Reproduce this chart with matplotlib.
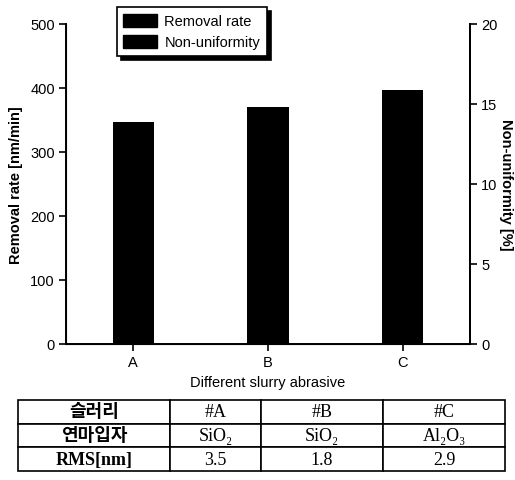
import numpy as np
import matplotlib
matplotlib.use('Agg')
import matplotlib.pyplot as plt
from matplotlib.patches import Patch

# chart data
slurries = ['A', 'B', 'C']
removal_rate = [347, 370, 397]

# table data
table_rows = [
    ['슬러리', '#A', '#B', '#C'],
    ['연마입자', 'SiO₂', 'SiO₂', 'Al₂O₃'],
    ['RMS[nm]', '3.5', '1.8', '2.9'],
]

plt.rcParams['font.family'] = ['Liberation Sans', 'DejaVu Sans']

fig = plt.figure(figsize=(5.15, 4.81), dpi=100)

# main axes
ax1 = fig.add_axes([66 / 515, 1 - 345 / 481, 404 / 515, 320 / 481])
x = np.arange(len(slurries))
ax1.bar(x, removal_rate, width=0.305, color='black')
ax1.set_xlim(-0.5, 2.5)
ax1.set_ylim(0, 500)
ax1.set_yticks(range(0, 501, 100))
ax1.set_xticks(x)
ax1.set_xticklabels(slurries)
ax1.set_xlabel('Different slurry abrasive', fontsize=10.5, labelpad=4)
ax1.set_ylabel('Removal rate [nm/min]', fontsize=10.5, fontweight='bold', labelpad=5)
ax1.tick_params(direction='out', length=5, width=1.2, labelsize=10.5, pad=3)
ax1.spines['top'].set_visible(False)
for s in ['left', 'bottom', 'right']:
    ax1.spines[s].set_linewidth(1.4)

# second y axis
ax2 = ax1.twinx()
ax2.set_ylim(0, 20)
ax2.set_yticks(range(0, 21, 5))
ax2.set_ylabel('Non-uniformity [%]', fontsize=10.5, fontweight='bold',
               rotation=270, labelpad=11)
ax2.tick_params(direction='out', length=5, width=1.2, labelsize=10.5, pad=3)
ax2.spines['top'].set_visible(False)
ax2.spines['right'].set_linewidth(1.4)

handles = [Patch(facecolor='black', edgecolor='black', label='Removal rate'),
           Patch(facecolor='black', edgecolor='black', label='Non-uniformity')]
leg = ax1.legend(handles=handles, loc='upper left', bbox_to_anchor=(0.126, 1.053),
                 fancybox=False, shadow={'color': 'black', 'alpha': 1, 'ox': 3, 'oy': -3},
                 edgecolor='black', framealpha=1, fontsize=10.5,
                 handlelength=2.3, handleheight=1.0, borderpad=0.45,
                 labelspacing=0.45, handletextpad=0.5, borderaxespad=0)
leg.get_frame().set_linewidth(1.2)
for t in leg.get_texts():
    t.set_text(t.get_text())

# table below the chart
tax = fig.add_axes([18 / 515, 1 - 472 / 481, 487 / 515, 71 / 481])
tax.axis('off')
tbl = tax.table(cellText=table_rows, cellLoc='center', bbox=[0, 0, 1, 1],
                colWidths=[152, 91, 122, 122])
tbl.auto_set_font_size(False)
for (r, c), cell in tbl.get_celld().items():
    cell.set_linewidth(1.2)
    txt = cell.get_text()
    txt.set_fontsize(13)
    txt.set_family(['Liberation Serif', 'Noto Sans CJK KR', 'DejaVu Serif'])
    if c == 0:
        txt.set_fontweight('bold')

fig.savefig('out.png', dpi=100)
